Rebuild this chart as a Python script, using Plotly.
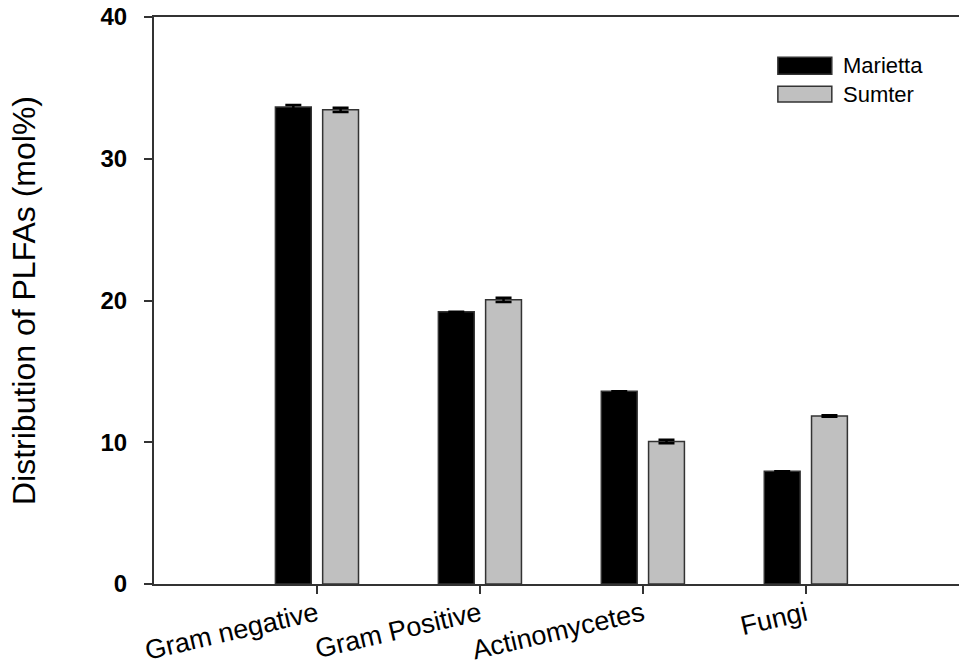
import plotly.graph_objects as go

categories = ["Gram negative", "Gram Positive", "Actinomycetes", "Fungi"]
marietta = [33.65, 19.2, 13.6, 7.95]
sumter = [33.45, 20.05, 10.05, 11.85]
marietta_err = [0.15, 0.0, 0.0, 0.0]
sumter_err = [0.15, 0.15, 0.12, 0.05]
y_ticks = [0, 10, 20, 30, 40]

FONT = "Liberation Sans, Arial, sans-serif"
AX = "#333333"

fig = go.Figure()
fig.add_trace(go.Bar(
    x=categories, y=marietta, name="Marietta",
    offset=-0.255, width=0.22,
    marker=dict(color="black", line=dict(color=AX, width=1.5)),
    error_y=dict(type="data", array=marietta_err, visible=True,
                 color="black", thickness=2.5, width=8),
    showlegend=False,
))
fig.add_trace(go.Bar(
    x=categories, y=sumter, name="Sumter",
    offset=0.035, width=0.22,
    marker=dict(color="#C0C0C0", line=dict(color=AX, width=1.5)),
    error_y=dict(type="data", array=sumter_err, visible=True,
                 color="black", thickness=2.5, width=8),
    showlegend=False,
))

# custom legend (paper coordinates)
legend_items = [("Marietta", "black", 0.929, 0.899, 0.914),
                ("Sumter", "#C0C0C0", 0.878, 0.850, 0.864)]
shapes = []
annotations = []
for name, col, y1, y0, ym in legend_items:
    shapes.append(dict(type="rect", xref="paper", yref="paper",
                       x0=0.775, x1=0.842, y0=y0, y1=y1,
                       fillcolor=col, line=dict(color=AX, width=1.5)))
    annotations.append(dict(xref="paper", yref="paper", x=0.853, y=ym,
                            text=name, showarrow=False, xanchor="left",
                            yanchor="middle",
                            font=dict(family=FONT, size=22, color="black")))

fig.update_layout(
    width=959, height=671,
    margin=dict(l=154, r=0, t=17, b=87),
    paper_bgcolor="white", plot_bgcolor="white",
    barmode="overlay",
    shapes=shapes, annotations=annotations,
    font=dict(family=FONT, color="black"),
    xaxis=dict(
        range=[-1, 3.94], showgrid=False, zeroline=False, automargin=False,
        showline=True, linecolor=AX, linewidth=2, mirror=True,
        ticks="outside", ticklen=8, tickwidth=2, tickcolor=AX,
        ticklabelstandoff=-6,
        tickangle=-13, tickfont=dict(family=FONT, size=27, color="black"),
    ),
    yaxis=dict(
        range=[0, 40], tickvals=y_ticks, showgrid=False, zeroline=False,
        automargin=False,
        showline=True, linecolor=AX, linewidth=2,
        ticks="outside", ticklen=8, tickwidth=2, tickcolor=AX,
        ticklabelstandoff=12,
        tickfont=dict(family=FONT, size=24, color="black", weight="bold"),
        title=dict(text="Distribution of PLFAs (mol%)",
                   font=dict(family=FONT, size=32, color="black"),
                   standoff=55),
    ),
)

fig.write_html("out.html")
